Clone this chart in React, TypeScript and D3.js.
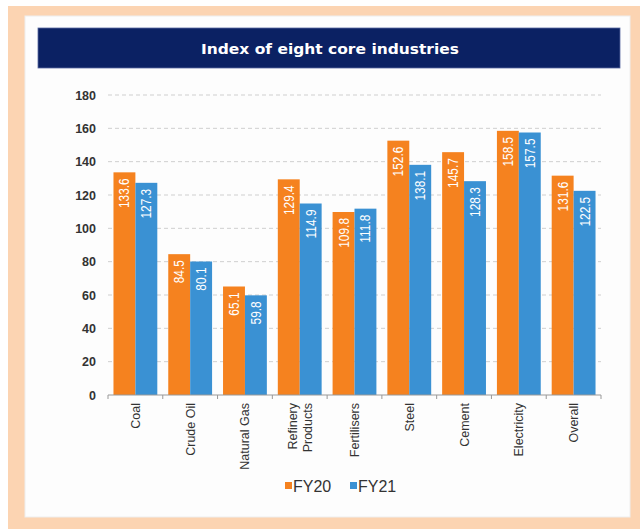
import { useRef, useEffect } from "react";
import * as d3 from "d3";

const categories = [
  "Coal",
  "Crude Oil",
  "Natural Gas",
  "Refinery\nProducts",
  "Fertilisers",
  "Steel",
  "Cement",
  "Electricity",
  "Overall",
];
const fy20 = [133.6, 84.5, 65.1, 129.4, 109.8, 152.6, 145.7, 158.5, 131.6];
const fy21 = [127.3, 80.1, 59.8, 114.9, 111.8, 138.1, 128.3, 157.5, 122.5];
const seriesNames = ["FY20", "FY21"];
const yTicks = [0, 20, 40, 60, 80, 100, 120, 140, 160, 180];

const W = 640;
const H = 529;
const ORANGE = "#F5821F";
const BLUE = "#3A91D3";
const FONT = "Arial, 'Liberation Sans', sans-serif";

const App = () => {
  const ref = useRef<SVGSVGElement | null>(null);

  useEffect(() => {
    const svg = d3.select(ref.current);
    svg.selectAll("*").remove();

    // frame + panel
    svg.append("rect").attr("width", W).attr("height", H).attr("fill", "#fff");
    svg
      .append("rect")
      .attr("x", 8)
      .attr("y", 6)
      .attr("width", W - 8)
      .attr("height", H - 6)
      .attr("fill", "#FCD4B2");
    svg
      .append("rect")
      .attr("x", 25)
      .attr("y", 16)
      .attr("width", 605)
      .attr("height", 501)
      .attr("fill", "#fdfdfd")
      .attr("stroke", "#eee");

    // title bar
    svg
      .append("rect")
      .attr("x", 38)
      .attr("y", 28)
      .attr("width", 582)
      .attr("height", 40)
      .attr("fill", "#0B2163")
      .attr("stroke", "#5a6aa0")
      .attr("stroke-width", 0.8);
    svg
      .append("text")
      .attr("x", 330)
      .attr("y", 54)
      .attr("text-anchor", "middle")
      .attr("fill", "#fff")
      .attr("font-family", "'DejaVu Sans', Verdana, sans-serif")
      .attr("font-weight", "bold")
      .attr("font-size", 14.5)
      .attr("textLength", 258)
      .attr("lengthAdjust", "spacingAndGlyphs")
      .text("Index of eight core industries");

    const left = 108;
    const right = 601;
    const top = 95;
    const bottom = 395;

    const x = d3
      .scaleBand<number>()
      .domain(d3.range(categories.length))
      .range([left, right])
      .paddingInner(0.2)
      .paddingOuter(0.1);
    const xSub = d3
      .scaleBand<number>()
      .domain([0, 1])
      .range([0, x.bandwidth()]);
    const y = d3.scaleLinear().domain([0, 180]).range([bottom, top]);

    // grid
    svg
      .append("g")
      .selectAll("line")
      .data(yTicks.filter((t) => t > 0))
      .join("line")
      .attr("x1", left)
      .attr("x2", right)
      .attr("y1", (d) => y(d))
      .attr("y2", (d) => y(d))
      .attr("stroke", "#cfcfcf")
      .attr("stroke-dasharray", "4,3");

    // y labels
    svg
      .append("g")
      .selectAll("text")
      .data(yTicks)
      .join("text")
      .attr("x", 96)
      .attr("y", (d) => y(d) + 4.5)
      .attr("text-anchor", "end")
      .attr("fill", "#333")
      .attr("font-family", FONT)
      .attr("font-weight", "bold")
      .attr("font-size", 12.5)
      .text((d) => d);

    const series = [fy20, fy21];
    const colors = [ORANGE, BLUE];

    series.forEach((vals, si) => {
      const g = svg.append("g");
      g.selectAll("rect")
        .data(vals)
        .join("rect")
        .attr("x", (_, i) => (x(i) as number) + (xSub(si) as number))
        .attr("y", (d) => y(d))
        .attr("width", xSub.bandwidth())
        .attr("height", (d) => bottom - y(d))
        .attr("fill", colors[si]);
      g.selectAll("text")
        .data(vals)
        .join("text")
        .attr("transform", (d, i) => {
          const cx = (x(i) as number) + (xSub(si) as number) + xSub.bandwidth() / 2 + 5;
          return `translate(${cx},${y(d) + 6}) rotate(-90) scale(0.85,1)`;
        })
        .attr("text-anchor", "end")
        .attr("fill", "#fff")
        .attr("font-family", FONT)
        .attr("font-size", 14)
        .text((d) => d.toFixed(1));
    });

    // x axis
    svg
      .append("line")
      .attr("x1", left)
      .attr("x2", right)
      .attr("y1", bottom)
      .attr("y2", bottom)
      .attr("stroke", "#999");
    const edges = d3
      .range(categories.length + 1)
      .map((i) => left + i * ((right - left) / categories.length));
    svg
      .append("g")
      .selectAll("line")
      .data(edges)
      .join("line")
      .attr("x1", (d) => d)
      .attr("x2", (d) => d)
      .attr("y1", bottom)
      .attr("y2", bottom + 4)
      .attr("stroke", "#999");

    // x labels
    categories.forEach((c, i) => {
      const cx = (x(i) as number) + x.bandwidth() / 2;
      const lines = c.split("\n");
      lines.forEach((ln, li) => {
        const off = (li - (lines.length - 1) / 2) * 15;
        svg
          .append("text")
          .attr("transform", `translate(${cx + off + 4.5},${bottom + 8}) rotate(-90)`)
          .attr("text-anchor", "end")
          .attr("fill", "#333")
          .attr("font-family", FONT)
          .attr("font-size", 12.5)
          .text(ln);
      });
    });

    // legend
    const lg = svg.append("g");
    const lx = [285, 350];
    seriesNames.forEach((n, i) => {
      lg.append("rect")
        .attr("x", lx[i])
        .attr("y", 482)
        .attr("width", 7)
        .attr("height", 7)
        .attr("fill", colors[i]);
      lg.append("text")
        .attr("x", lx[i] + 8)
        .attr("y", 491.5)
        .attr("fill", "#333")
        .attr("font-family", FONT)
        .attr("font-size", 16)
        .text(n);
    });
  }, []);

  return (
    <svg
      ref={ref}
      width={W}
      height={H}
      style={{ position: "absolute", left: 0, top: 0, display: "block" }}
    />
  );
};

export default App;
